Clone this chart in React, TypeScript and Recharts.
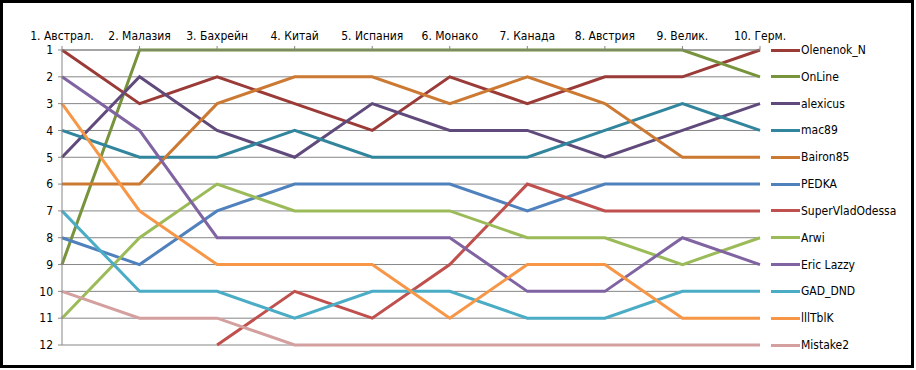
import React from 'react';
import { LineChart, Line, XAxis, YAxis, CartesianGrid } from 'recharts';

const races = [
  '1. Австрал.', '2. Малазия', '3. Бахрейн', '4. Китай', '5. Испания',
  '6. Монако', '7. Канада', '8. Австрия', '9. Велик.', '10. Герм.',
];

const olenenok = [1, 3, 2, 3, 4, 2, 3, 2, 2, 1];
const online = [9, 1, 1, 1, 1, 1, 1, 1, 1, 2];
const alexicus = [5, 2, 4, 5, 3, 4, 4, 5, 4, 3];
const mac89 = [4, 5, 5, 4, 5, 5, 5, 4, 3, 4];
const bairon = [6, 6, 3, 2, 2, 3, 2, 3, 5, 5];
const pedka = [8, 9, 7, 6, 6, 6, 7, 6, 6, 6];
const superVlad = [null, null, 12, 10, 11, 9, 6, 7, 7, 7];
const arwi = [11, 8, 6, 7, 7, 7, 8, 8, 9, 8];
const ericLazzy = [2, 4, 8, 8, 8, 8, 10, 10, 8, 9];
const gadDnd = [7, 10, 10, 11, 10, 10, 11, 11, 10, 10];
const lllTblK = [3, 7, 9, 9, 9, 11, 9, 9, 11, 11];
const mistake2 = [10, 11, 11, 12, 12, 12, 12, 12, 12, 12];

const positions = [1, 2, 3, 4, 5, 6, 7, 8, 9, 10, 11, 12];

const series = [
  { key: 'Olenenok_N', values: olenenok, color: '#9B3B38' },
  { key: 'OnLine', values: online, color: '#77933C' },
  { key: 'alexicus', values: alexicus, color: '#604A7B' },
  { key: 'mac89', values: mac89, color: '#31859C' },
  { key: 'Bairon85', values: bairon, color: '#CC7A33' },
  { key: 'PEDKA', values: pedka, color: '#4F81BD' },
  { key: 'SuperVladOdessa', values: superVlad, color: '#C0504D' },
  { key: 'Arwi', values: arwi, color: '#9BBB59' },
  { key: 'Eric Lazzy', values: ericLazzy, color: '#8064A2' },
  { key: 'GAD_DND', values: gadDnd, color: '#4BACC6' },
  { key: 'lllTblK', values: lllTblK, color: '#F79646' },
  { key: 'Mistake2', values: mistake2, color: '#D4A09F' },
];

const data = races.map((race, i) => {
  const row: Record<string, string | number | null> = { race };
  series.forEach((s) => {
    row[s.key] = s.values[i];
  });
  return row;
});

const FONT = '"DejaVu Sans Condensed", "DejaVu Sans", Verdana, sans-serif';
const PLOT_TOP = 50;
const PLOT_BOTTOM = 345;

// legend sits to the right of the plot, one row per gridline
const RightLegend = () => {
  const step = (PLOT_BOTTOM - PLOT_TOP) / (series.length - 1);
  return (
    <div style={{ position: 'absolute', left: 771, top: PLOT_TOP, width: 140 }}>
      {series.map((s, i) => (
        <div
          key={s.key}
          style={{
            position: 'absolute',
            left: 0,
            top: i * step - 8,
            height: 16,
            display: 'flex',
            alignItems: 'center',
            whiteSpace: 'nowrap',
          }}
        >
          <span style={{ display: 'inline-block', width: 29, height: 3, background: s.color }} />
          <span style={{ fontFamily: FONT, fontSize: 12, color: '#000', marginLeft: 1 }}>{s.key}</span>
        </div>
      ))}
    </div>
  );
};

export default function App() {
  return (
    <div style={{ position: 'relative', width: 916, height: 370, background: '#fff' }}>
      <style>{'body{margin:0}'}</style>
      <LineChart
        width={916}
        height={370}
        data={data}
        margin={{ top: 20, right: 156, bottom: 25, left: 0 }}
        style={{ fontFamily: FONT }}
      >
        <CartesianGrid horizontal vertical={false} stroke="#868686" strokeWidth={1} />
        <XAxis
          dataKey="race"
          orientation="top"
          height={30}
          interval={0}
          tickSize={4}
          tickMargin={6}
          axisLine={{ stroke: '#868686' }}
          tickLine={{ stroke: '#868686' }}
          tick={{ fill: '#000', fontSize: 12 }}
        />
        <YAxis
          type="number"
          domain={[1, 12]}
          reversed
          ticks={positions}
          interval={0}
          width={62}
          tickSize={4}
          tickMargin={5}
          axisLine={{ stroke: '#868686' }}
          tickLine={{ stroke: '#868686' }}
          tick={{ fill: '#000', fontSize: 12 }}
        />
        {series.map((s) => (
          <Line
            key={s.key}
            type="linear"
            dataKey={s.key}
            stroke={s.color}
            strokeWidth={3}
            dot={false}
            activeDot={false}
            isAnimationActive={false}
          />
        ))}
      </LineChart>
      <RightLegend />
      <div
        style={{
          position: 'absolute',
          left: 0,
          top: 0,
          width: 914,
          height: 368,
          border: '3px solid #000',
          boxSizing: 'border-box',
          pointerEvents: 'none',
        }}
      />
    </div>
  );
}
